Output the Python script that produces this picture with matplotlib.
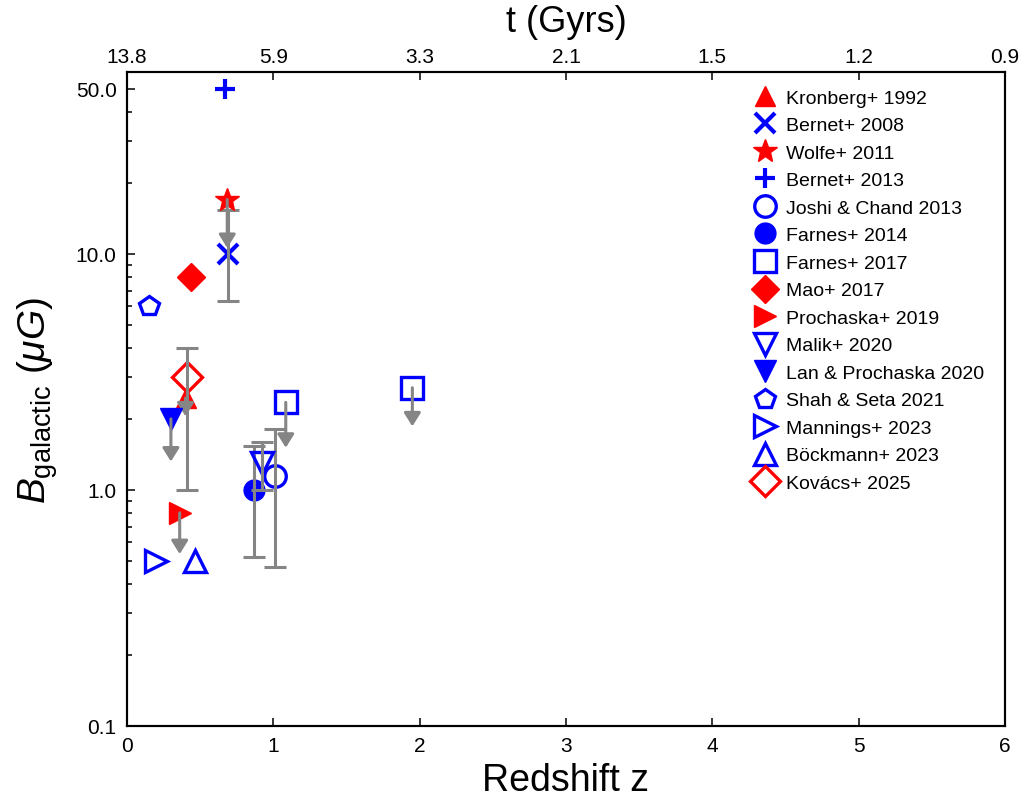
import matplotlib
matplotlib.use("Agg")
import matplotlib.pyplot as plt
from matplotlib.ticker import NullFormatter, NullLocator

plt.rcParams['font.family'] = ['Liberation Sans', 'DejaVu Sans']
plt.rcParams['mathtext.fontset'] = 'custom'
plt.rcParams['mathtext.rm'] = 'Liberation Sans'
plt.rcParams['mathtext.it'] = 'Liberation Sans:italic'

# redshift, field strength (muG), error bar ends, upper-limit arrow ends
kronberg_z, kronberg_b, kronberg_lim = [0.40], [2.45], [2.05]
bernet08_z, bernet08_b = [0.69], [10.0]
bernet08_lo, bernet08_hi = [6.3], [15.3]
wolfe_z, wolfe_b, wolfe_lim = [0.685], [17.0], [10.6]
bernet13_z, bernet13_b = [0.67], [50.0]
joshi_z, joshi_b = [1.01], [1.15]
joshi_lo, joshi_hi = [0.47], [1.82]
farnes14_z, farnes14_b = [0.87], [1.0]
farnes14_lo, farnes14_hi = [0.52], [1.53]
farnes17_z, farnes17_b, farnes17_lim = [1.085, 1.95], [2.35, 2.71], [1.51, 1.86]
mao_z, mao_b = [0.435], [8.0]
prochaska_z, prochaska_b, prochaska_lim = [0.36], [0.80], [0.535]
malik_z, malik_b = [0.92], [1.30]
malik_lo, malik_hi = [1.0], [1.59]
lan_z, lan_b, lan_lim = [0.30], [2.0], [1.32]
shah_z, shah_b = [0.15], [6.0]
mannings_z, mannings_b = [0.20], [0.50]
bockmann_z, bockmann_b = [0.465], [0.50]
kovacs_z, kovacs_b = [0.41], [3.0]
kovacs_lo, kovacs_hi = [1.0], [4.0]

z_ticks = [0, 1, 2, 3, 4, 5, 6]
t_labels = ['13.8', '5.9', '3.3', '2.1', '1.5', '1.2', '0.9']
b_ticks = [0.1, 1.0, 10.0, 50.0]
b_labels = ['0.1', '1.0', '10.0', '50.0']

GRAY = '#858585'

fig = plt.figure(figsize=(10.26, 8.03), dpi=100)
ax = fig.add_axes([127/1026, 1-727/803, 878/1026, 654/803])
ax.set_yscale('log')


def point(z, b, label, marker, color, ms, filled=True, mew=1.0):
    ax.plot(z, b, linestyle='none', marker=marker, ms=ms, mew=mew,
            color=color, mfc=color if filled else 'none', mec=color,
            label=label, zorder=3)


def bars(z, b, lo, hi):
    yerr = [[bb - l for bb, l in zip(b, lo)], [h - bb for bb, h in zip(b, hi)]]
    ax.errorbar(z, b, yerr=yerr, fmt='none', ecolor=GRAY, elinewidth=2.2,
                capsize=8, capthick=2.2, zorder=3)


def limits(z, b, lim):
    for zz, bb, ll in zip(z, b, lim):
        ax.annotate('', xy=(zz, ll), xytext=(zz, bb), zorder=3,
                    arrowprops=dict(arrowstyle='-|>,head_width=0.5,head_length=0.8',
                                    color=GRAY, lw=2.2, shrinkA=0, shrinkB=0,
                                    mutation_scale=10))


point(kronberg_z, kronberg_b, 'Kronberg+ 1992', '^', 'red', 15)
limits(kronberg_z, kronberg_b, kronberg_lim)
point(bernet08_z, bernet08_b, 'Bernet+ 2008', 'x', 'blue', 14, mew=3)
bars(bernet08_z, bernet08_b, bernet08_lo, bernet08_hi)
point(wolfe_z, wolfe_b, 'Wolfe+ 2011', '*', 'red', 18)
limits(wolfe_z, wolfe_b, wolfe_lim)
point(bernet13_z, bernet13_b, 'Bernet+ 2013', '+', 'blue', 14, mew=3)
point(joshi_z, joshi_b, 'Joshi & Chand 2013', 'o', 'blue', 15.5, filled=False, mew=2.4)
bars(joshi_z, joshi_b, joshi_lo, joshi_hi)
point(farnes14_z, farnes14_b, 'Farnes+ 2014', 'o', 'blue', 15)
bars(farnes14_z, farnes14_b, farnes14_lo, farnes14_hi)
point(farnes17_z, farnes17_b, 'Farnes+ 2017', 's', 'blue', 16.5, filled=False, mew=2.4)
limits(farnes17_z, farnes17_b, farnes17_lim)
point(mao_z, mao_b, 'Mao+ 2017', 'D', 'red', 14.5)
point(prochaska_z, prochaska_b, 'Prochaska+ 2019', '>', 'red', 16.5)
limits(prochaska_z, prochaska_b, prochaska_lim)
point(malik_z, malik_b, 'Malik+ 2020', 'v', 'blue', 16, filled=False, mew=2.4)
bars(malik_z, malik_b, malik_lo, malik_hi)
point(lan_z, lan_b, 'Lan & Prochaska 2020', 'v', 'blue', 15.5)
limits(lan_z, lan_b, lan_lim)
point(shah_z, shah_b, 'Shah & Seta 2021', 'p', 'blue', 14.5, filled=False, mew=2.4)
point(mannings_z, mannings_b, 'Mannings+ 2023', '>', 'blue', 16.5, filled=False, mew=2.4)
point(bockmann_z, bockmann_b, 'Böckmann+ 2023', '^', 'blue', 16.5, filled=False, mew=2.4)
point(kovacs_z, kovacs_b, 'Kovács+ 2025', 'D', 'red', 15, filled=False, mew=2.4)
bars(kovacs_z, kovacs_b, kovacs_lo, kovacs_hi)

ax.set_xlim(0, 6)
ax.set_ylim(0.1, 59)
ax.set_xticks(z_ticks)
ax.xaxis.set_minor_locator(NullLocator())
ax.set_yticks(b_ticks)
ax.set_yticklabels(b_labels)
ax.yaxis.set_minor_formatter(NullFormatter())
ax.tick_params(which='both', direction='in', top=False, right=False, width=1.1)
ax.tick_params(which='major', length=6)
ax.tick_params(which='minor', length=3.5)
ax.tick_params(axis='x', labelsize=15, pad=7)
ax.tick_params(axis='y', labelsize=15, pad=7.5)
for s in ax.spines.values():
    s.set_linewidth(1.5)

ax.set_xlabel('Redshift z', fontsize=27, labelpad=5)
ax.set_ylabel(r'$B_{\rm galactic}$ $(\mu G)$', fontsize=28, labelpad=11)

ax2 = ax.twiny()
ax2.set_xlim(0, 6)
ax2.set_xticks(z_ticks)
ax2.set_xticklabels(t_labels)
ax2.xaxis.set_minor_locator(NullLocator())
ax2.tick_params(direction='in', length=6, width=1.1, labelsize=15, pad=4.5)
ax2.set_xlabel('t (Gyrs)', fontsize=26, labelpad=11)
for s in ax2.spines.values():
    s.set_linewidth(1.5)

ax.legend(loc='upper left', bbox_to_anchor=(752/1026, 1-90/803),
          bbox_transform=fig.transFigure, frameon=False, borderpad=0,
          borderaxespad=0, handlelength=1.3, handletextpad=0.45,
          labelspacing=0.51, fontsize=14, numpoints=1)

fig.savefig('out.png', dpi=100)
